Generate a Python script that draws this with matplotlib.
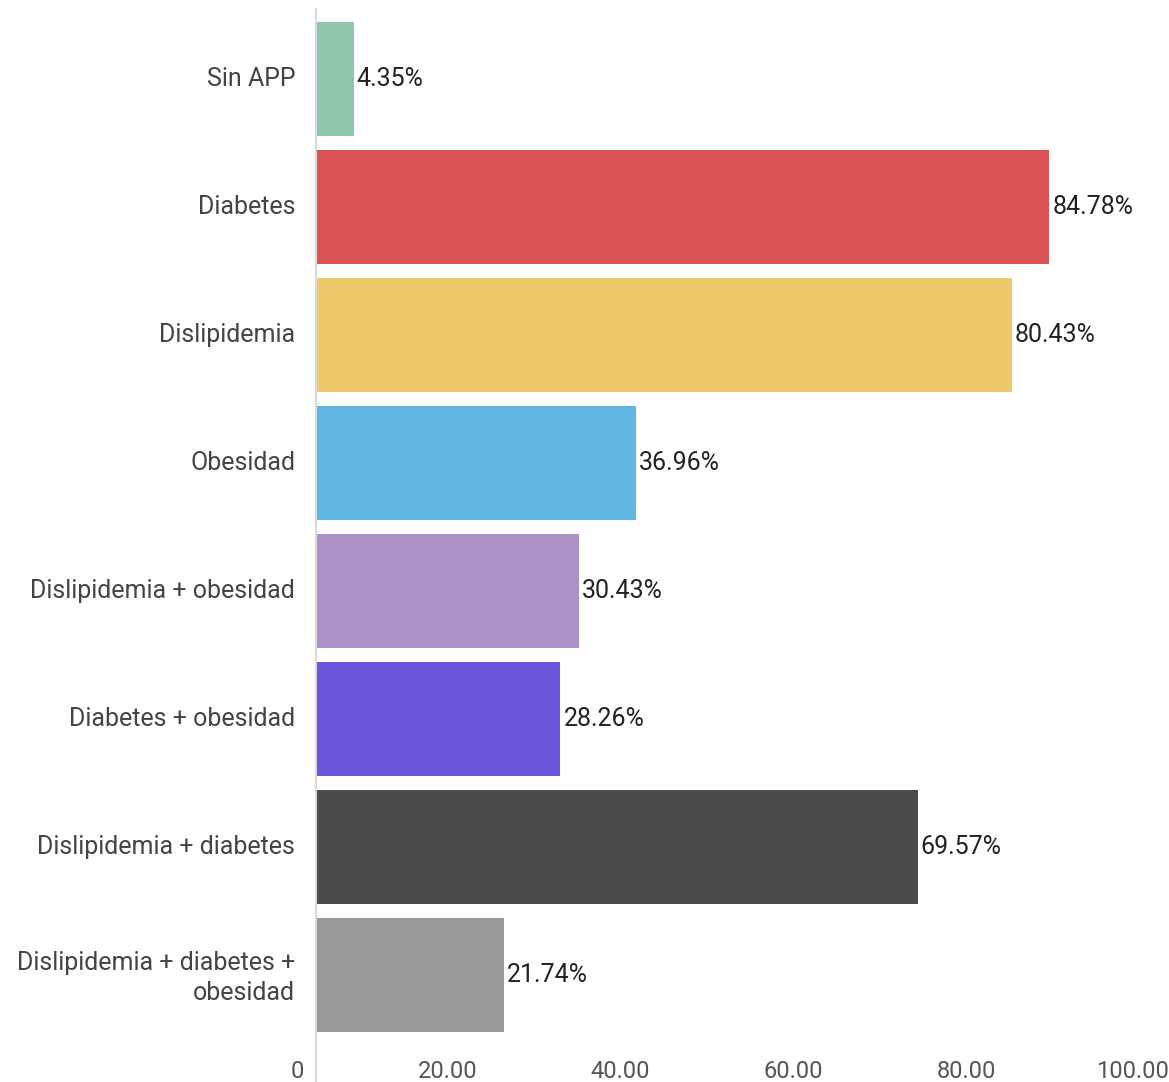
import matplotlib.pyplot as plt
from matplotlib.transforms import ScaledTranslation

plt.rcParams['font.family'] = ['Roboto', 'DejaVu Sans']

# antecedentes y porcentaje de pacientes
categorias = ['Sin APP', 'Diabetes', 'Dislipidemia', 'Obesidad',
              'Dislipidemia + obesidad', 'Diabetes + obesidad',
              'Dislipidemia + diabetes', 'Dislipidemia + diabetes +\nobesidad']
porcentajes = [4.35, 84.78, 80.43, 36.96, 30.43, 28.26, 69.57, 21.74]
colores = ['#8fc6a9', '#db5254', '#edc96b', '#5eb6e3',
           '#ac92c6', '#6c54db', '#4b4b4b', '#999999']
ticks = [0, 20, 40, 60, 80, 100]
tick_labels = ['0', '20.00', '40.00', '60.00', '80.00', '100.00']

fig = plt.figure(figsize=(11.69, 10.82), dpi=100)
W, H = 1169, 1082
ax = fig.add_axes([316 / W, 0, 865 / W, 1 - 9 / H])

pos = list(range(len(categorias)))
ax.barh(pos, porcentajes, height=0.89, color=colores, zorder=2)

ax.set_xlim(0, 100)
ax.set_ylim(len(categorias) - 1 + 107 / 128, -70 / 128)

# etiquetas de valor al final de cada barra
for y, v in zip(pos, porcentajes):
    t = ax.text(v, y, f'{v:.2f}%', va='center', ha='left', fontsize=18,
                color='#222222')
    t.set_transform(t.get_transform() + ScaledTranslation(3 / 100, 0, fig.dpi_scale_trans))

ax.set_yticks(pos)
ax.set_yticklabels(categorias, fontsize=18, color='#444444', linespacing=1.3)
ax.tick_params(axis='y', length=0, pad=15)
up = ScaledTranslation(0, 2.5 / 100, fig.dpi_scale_trans)
for lab in ax.get_yticklabels():
    lab.set_transform(lab.get_transform() + up)

# eje x: etiquetas dentro del area, alineadas a la derecha
ax.set_xticks([])
off = ScaledTranslation(-12 / 100, 0, fig.dpi_scale_trans)
for x, lab in zip(ticks, tick_labels):
    ax.text(x, 11 / 1073, lab, transform=ax.get_xaxis_transform() + off,
            ha='right', va='center', fontsize=17, color='#555555', clip_on=False)

for s in ['top', 'right', 'bottom']:
    ax.spines[s].set_visible(False)
ax.spines['left'].set_color('#d9d9d9')
ax.spines['left'].set_linewidth(1.5)

fig.savefig('out.png', dpi=100)
